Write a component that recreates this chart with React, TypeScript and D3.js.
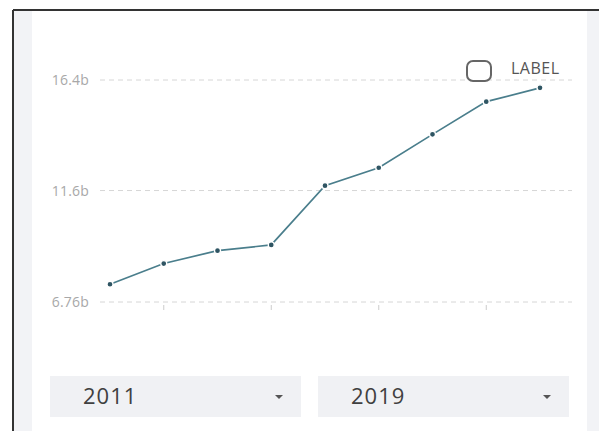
import React from "react";
import * as d3 from "d3";

const years = [2011, 2012, 2013, 2014, 2015, 2016, 2017, 2018, 2019];
const values = [7.53, 8.43, 8.99, 9.24, 11.81, 12.59, 14.04, 15.46, 16.06];
const yTicks = [6.76, 11.6, 16.4];
const yTickLabels = ["6.76b", "11.6b", "16.4b"];
const xTickYears = [2012, 2014, 2016, 2018];
const seriesLabel = "LABEL";
const selectorValues = ["2011", "2019"];

export default function App() {
  const W = 599, H = 431;
  const x = d3.scaleLinear().domain([2011, 2019]).range([110, 540]);
  const y = d3.scaleLinear().domain([6.76, 16.4]).range([302, 80]);
  const line = d3.line<number>().x((_, i) => x(years[i])).y((d) => y(d));
  const font = "'Open Sans', 'Noto Sans', sans-serif";
  return (
    <svg width={W} height={H} style={{ position: "absolute", left: 0, top: 0, background: "#fff" }}>
      <rect x={0} y={0} width={W} height={H} fill="#fff" />
      <rect x={14} y={11} width={W} height={H} fill="#f2f3f6" />
      <rect x={32} y={11} width={555} height={H} fill="#fff" />
      <line x1={13} y1={10} x2={W} y2={10} stroke="#333" strokeWidth={2} />
      <line x1={13} y1={10} x2={13} y2={H} stroke="#333" strokeWidth={2} />
      {yTicks.map((t, i) => (
        <g key={t}>
          <line x1={100} x2={572} y1={y(t)} y2={y(t)} stroke="#d6d6d6" strokeDasharray="5,4" strokeWidth={1} />
          <text x={89} y={y(t) + 5} textAnchor="end" fontSize={14} letterSpacing={0.2} fill="#a8a8a8" fontFamily={font}>
            {yTickLabels[i]}
          </text>
        </g>
      ))}
      {xTickYears.map((yr) => (
        <line key={yr} x1={x(yr)} x2={x(yr)} y1={y(6.76) + 3} y2={y(6.76) + 8} stroke="#ccc" strokeWidth={1} />
      ))}
      <path d={line(values) || ""} fill="none" stroke="#4a7e8c" strokeWidth={1.7} />
      {values.map((v, i) => (
        <circle key={i} cx={x(years[i])} cy={y(v)} r={3} fill="#2f5563" stroke="#fff" strokeWidth={1.3} />
      ))}
      <rect x={467} y={61} width={24} height={20} rx={6} fill="#fff" stroke="#666" strokeWidth={2} />
      <text x={511} y={74} fontSize={16} letterSpacing={0.5} fill="#555" fontFamily={font}>{seriesLabel}</text>
      {selectorValues.map((s, i) => {
        const bx = i === 0 ? 50 : 318;
        const bw = 251;
        return (
          <g key={s}>
            <rect x={bx} y={376} width={bw} height={41} fill="#f0f1f4" />
            <text x={bx + 33} y={404} fontSize={22} fontWeight={500} letterSpacing={1} fill="#404040" fontFamily={font}>{s}</text>
            <path d={`M${bx + bw - 26},${395} l8,0 l-4,4 z`} fill="#555" />
          </g>
        );
      })}
    </svg>
  );
}
